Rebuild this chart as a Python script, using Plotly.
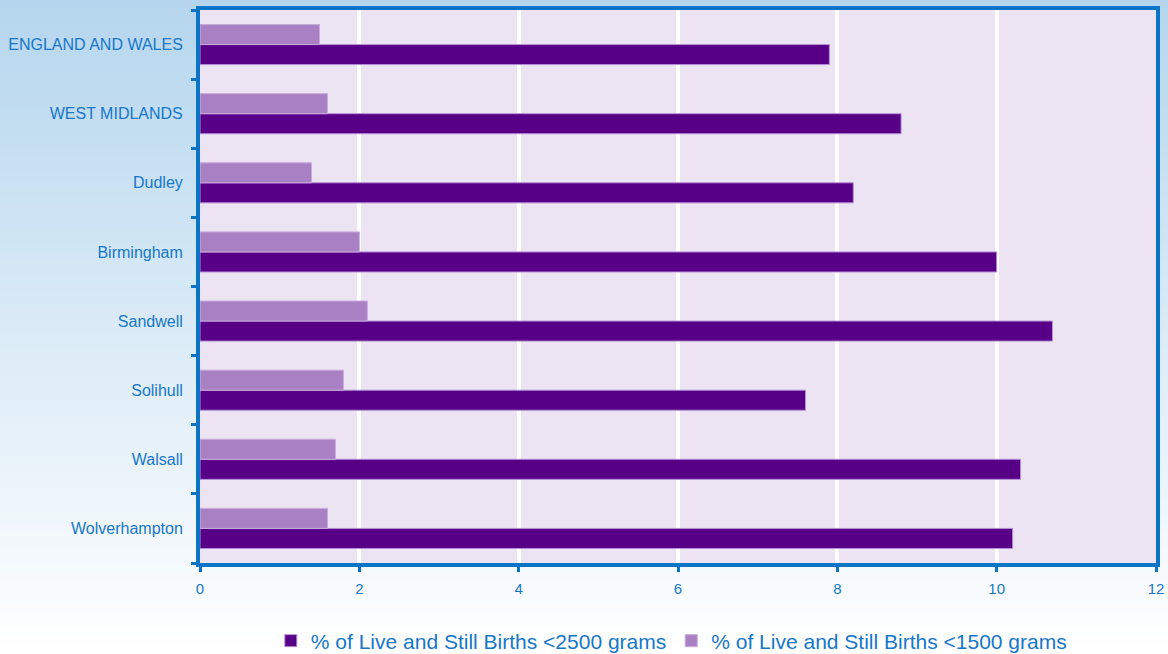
import plotly.graph_objects as go

categories = ["ENGLAND AND WALES", "WEST MIDLANDS", "Dudley", "Birmingham",
              "Sandwell", "Solihull", "Walsall", "Wolverhampton"]
under_2500 = [7.9, 8.8, 8.2, 10.0, 10.7, 7.6, 10.3, 10.2]
under_1500 = [1.5, 1.6, 1.4, 2.0, 2.1, 1.8, 1.7, 1.6]
x_ticks = [0, 2, 4, 6, 8, 10, 12]

W, H = 1168, 654
ML, MR, MT, MB = 200, 12, 10, 91
BLUE = "#1677C9"
FONT = "Liberation Sans, Arial, sans-serif"

fig = go.Figure()
fig.add_trace(go.Bar(
    y=categories, x=under_2500, orientation="h",
    name="% of Live and Still Births <2500 grams",
    marker=dict(color="#570087", line=dict(color="#B48ED6", width=1)),
))
fig.add_trace(go.Bar(
    y=categories, x=under_1500, orientation="h",
    name="% of Live and Still Births <1500 grams",
    marker=dict(color="#AA80C4", line=dict(color="#C9A9DC", width=1)),
))

# background gradient bands (paper coordinates)
ph = H - MT - MB
pw = W - ML - MR
shapes = []
n = 80
top_c = (181, 214, 238)
bot_c = (255, 255, 255)
for i in range(n):
    f0 = i / n
    f1 = (i + 1) / n
    fm = (f0 + f1) / 2
    c = tuple(round(top_c[k] + (bot_c[k] - top_c[k]) * fm) for k in range(3))
    y_top_px = f0 * H - 1
    y_bot_px = f1 * H + 1
    y0 = (H - MB - y_bot_px) / ph
    y1 = (H - MB - y_top_px) / ph
    shapes.append(dict(type="rect", xref="paper", yref="paper",
                       x0=-ML / pw - 0.01, x1=1 + MR / pw + 0.01, y0=y0, y1=y1,
                       fillcolor="rgb(%d,%d,%d)" % c, line=dict(width=0),
                       layer="below"))
shapes.append(dict(type="rect", xref="x domain", yref="y domain",
                   x0=0, x1=1, y0=0, y1=1, fillcolor="#ECE4F3",
                   line=dict(width=0), layer="below"))

fig.update_layout(
    width=W, height=H,
    margin=dict(l=ML, r=MR, t=MT, b=MB, autoexpand=False),
    paper_bgcolor="#FFFFFF",
    plot_bgcolor="#ECE4F3",
    barmode="group",
    bargap=0.42,
    bargroupgap=0,
    shapes=shapes,
    font=dict(family=FONT, color=BLUE, size=14),
    showlegend=True,
    legend=dict(orientation="h", x=0.493, xanchor="center",
                yref="container", y=13 / H, yanchor="middle",
                font=dict(size=21, color=BLUE),
                bgcolor="rgba(0,0,0,0)", itemwidth=30, tracegroupgap=0),
    xaxis=dict(range=[0, 12], tickvals=x_ticks, showgrid=True,
               gridcolor="#FFFFFF", gridwidth=4, zeroline=False,
               showline=True, linecolor="#0A74C6", linewidth=4, mirror=True,
               ticks="outside", ticklen=5, tickwidth=3, tickcolor="#0A74C6",
               ticklabelstandoff=4,
               tickfont=dict(size=15, color=BLUE)),
    yaxis=dict(categoryorder="array", categoryarray=categories[::-1],
               showgrid=False, zeroline=False,
               showline=True, linecolor="#0A74C6", linewidth=4, mirror=True,
               ticks="outside", tickson="boundaries", ticklen=5, tickwidth=3,
               tickcolor="#0A74C6", ticklabelstandoff=10,
               tickfont=dict(size=16, color=BLUE)),
)

fig.write_html("out.html")
